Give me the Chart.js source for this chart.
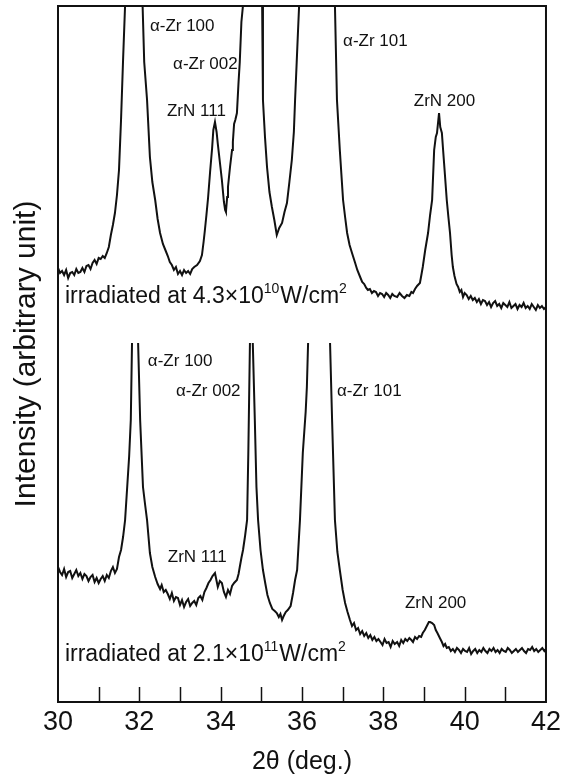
<!DOCTYPE html>
<html>
<head>
<meta charset="utf-8">
<script src="https://cdn.jsdelivr.net/npm/chart.js@4.4.1/dist/chart.umd.min.js"></script>
<style>
  html, body { margin: 0; padding: 0; background: #fff; }
</style>
</head>
<body>
<canvas id="xrdChart" width="565" height="780"></canvas>
<script>
// 2θ (deg.) and intensity (arb.); values above the frame are clipped peaks
const upperTheta = [
  30.00, 30.05, 30.10, 30.15, 30.20, 30.25, 30.30, 30.35, 30.40, 30.45, 30.50, 30.55, 30.60, 30.65, 30.70, 30.75,
  30.80, 30.85, 30.90, 30.95, 31.00, 31.05, 31.10, 31.15, 31.20, 31.25, 31.30, 31.35, 31.40, 31.45, 31.50, 31.55,
  31.60, 31.65, 31.86, 32.08, 32.12, 32.19, 32.26, 32.32, 32.39, 32.45, 32.51, 32.58, 32.65, 32.70, 32.75, 32.80,
  32.85, 32.90, 32.95, 33.00, 33.05, 33.10, 33.15, 33.20, 33.25, 33.30, 33.35, 33.42, 33.49, 33.54, 33.58, 33.61,
  33.65, 33.69, 33.74, 33.79, 33.82, 33.86, 33.90, 33.93, 33.98, 34.03, 34.08, 34.11, 34.13, 34.16, 34.18, 34.23,
  34.28, 34.30, 34.33, 34.36, 34.40, 34.44, 34.47, 34.51, 34.55, 34.80, 35.02, 35.04, 35.09, 35.14, 35.20, 35.26,
  35.32, 35.38, 35.44, 35.51, 35.57, 35.63, 35.69, 35.75, 35.80, 35.83, 35.87, 35.90, 35.93, 36.38, 36.81, 36.86,
  36.93, 37.01, 37.06, 37.11, 37.17, 37.23, 37.30, 37.36, 37.43, 37.48, 37.53, 37.58, 37.62, 37.67, 37.72, 37.77,
  37.82, 37.87, 37.92, 37.97, 38.02, 38.07, 38.12, 38.17, 38.22, 38.27, 38.34, 38.40, 38.46, 38.52, 38.58, 38.64,
  38.69, 38.73, 38.78, 38.83, 38.90, 38.94, 38.97, 39.03, 39.10, 39.15, 39.20, 39.25, 39.29, 39.32, 39.37, 39.40,
  39.44, 39.47, 39.51, 39.56, 39.60, 39.64, 39.68, 39.71, 39.75, 39.80, 39.84, 39.88, 39.92, 39.96, 40.00, 40.05,
  40.10, 40.15, 40.20, 40.25, 40.30, 40.35, 40.40, 40.45, 40.50, 40.55, 40.60, 40.65, 40.70, 40.75, 40.80, 40.85,
  40.90, 40.95, 41.00, 41.05, 41.10, 41.15, 41.20, 41.25, 41.30, 41.35, 41.40, 41.45, 41.50, 41.55, 41.60, 41.65,
  41.70, 41.75, 41.80, 41.85, 41.90, 41.95, 42.00
];
const upperIntensity = [
  434, 429, 431, 427, 432, 424, 429, 430, 427, 433, 429, 430, 434, 430, 436, 437,
  433, 439, 442, 438, 444, 443, 446, 444, 449, 455, 467, 477, 489, 507, 532, 582,
  642, 697, 1800, 697, 640, 602, 545, 520, 502, 483, 469, 458, 451, 446, 440, 437,
  432, 435, 428, 431, 427, 432, 429, 431, 428, 433, 435, 437, 441, 447, 460, 471,
  487, 504, 530, 554, 572, 580, 570, 558, 540, 522, 500, 492, 490, 505, 515, 535,
  552, 560, 578, 582, 589, 620, 640, 680, 697, 2200, 697, 602, 565, 535, 510, 495,
  482, 467, 474, 479, 490, 499, 520, 542, 570, 602, 640, 669, 697, 2600, 697, 602,
  552, 502, 485, 469, 457, 449, 440, 432, 425, 420, 418, 414, 412, 413, 409, 411,
  410, 406, 409, 408, 405, 409, 407, 404, 408, 406, 405, 409, 406, 404, 407, 406,
  410, 409, 413, 416, 419, 428, 435, 452, 469, 487, 502, 552, 565, 569, 589, 575,
  569, 552, 530, 502, 485, 469, 447, 435, 426, 418, 415, 410, 412, 405, 409, 407,
  403, 406, 402, 404, 400, 403, 398, 402, 401, 397, 400, 395, 399, 401, 396, 398,
  394, 399, 397, 395, 400, 394, 396, 398, 393, 397, 395, 399, 394, 396, 393, 398,
  395, 392, 397, 394, 396, 393, 395
];

const lowerTheta = [
  30.00, 30.05, 30.10, 30.15, 30.20, 30.25, 30.30, 30.35, 30.40, 30.45, 30.50, 30.55, 30.60, 30.65, 30.70, 30.75,
  30.80, 30.85, 30.90, 30.95, 31.00, 31.05, 31.10, 31.15, 31.20, 31.25, 31.30, 31.35, 31.40, 31.45, 31.50, 31.55,
  31.60, 31.65, 31.70, 31.75, 31.79, 31.82, 31.90, 31.97, 32.02, 32.09, 32.14, 32.19, 32.26, 32.32, 32.39, 32.45,
  32.51, 32.55, 32.60, 32.65, 32.70, 32.75, 32.80, 32.85, 32.90, 32.95, 33.00, 33.05, 33.10, 33.15, 33.20, 33.25,
  33.30, 33.35, 33.40, 33.45, 33.50, 33.55, 33.60, 33.65, 33.70, 33.75, 33.80, 33.86, 33.90, 33.93, 33.98, 34.03,
  34.08, 34.13, 34.18, 34.23, 34.28, 34.33, 34.40, 34.44, 34.47, 34.51, 34.55, 34.60, 34.65, 34.68, 34.72, 34.75,
  34.79, 34.84, 34.88, 34.92, 34.98, 35.04, 35.10, 35.15, 35.21, 35.27, 35.33, 35.38, 35.43, 35.47, 35.51, 35.55,
  35.60, 35.65, 35.72, 35.78, 35.83, 35.88, 35.95, 36.02, 36.09, 36.12, 36.15, 36.40, 36.69, 36.74, 36.81, 36.87,
  36.93, 37.00, 37.06, 37.12, 37.18, 37.23, 37.28, 37.33, 37.38, 37.43, 37.48, 37.53, 37.58, 37.63, 37.68, 37.73,
  37.78, 37.83, 37.88, 37.93, 37.98, 38.03, 38.08, 38.13, 38.18, 38.23, 38.28, 38.34, 38.39, 38.44, 38.49, 38.54,
  38.59, 38.64, 38.69, 38.73, 38.78, 38.83, 38.88, 38.93, 38.97, 39.02, 39.07, 39.12, 39.15, 39.20, 39.25, 39.29,
  39.33, 39.39, 39.44, 39.48, 39.52, 39.56, 39.61, 39.66, 39.71, 39.76, 39.81, 39.86, 39.91, 39.96, 40.01, 40.06,
  40.11, 40.16, 40.21, 40.26, 40.31, 40.36, 40.41, 40.46, 40.51, 40.56, 40.61, 40.66, 40.71, 40.76, 40.81, 40.86,
  40.91, 40.96, 41.01, 41.06, 41.11, 41.16, 41.21, 41.26, 41.31, 41.36, 41.41, 41.46, 41.51, 41.56, 41.61, 41.66,
  41.71, 41.76, 41.81, 41.86, 41.91, 41.96, 42.00
];
// null = where the trace is broken off above the cut height
const lowerIntensity = [
  135, 130, 127, 133, 125, 130, 131, 124, 128, 132, 126, 129, 123, 128, 126, 121,
  125, 127, 120, 124, 119, 123, 126, 121, 127, 124, 131, 135, 129, 133, 145, 152,
  165, 182, 214, 246, 282, 359, null, 359, 282, 215, 198, 182, 149, 135, 125, 118,
  113, 117, 110, 112, 108, 103, 109, 101, 105, 104, 97, 102, 95, 100, 103, 96,
  99, 101, 97, 104, 106, 102, 110, 114, 119, 122, 126, 129, 121, 115, 121, 119,
  110, 105, 112, 108, 116, 119, 122, 128, 135, 144, 152, 166, 182, 249, 359, null,
  359, 282, 215, 182, 152, 132, 118, 107, 99, 93, 91, 89, 85, 88, 82, 86,
  90, 92, 96, 109, 122, 132, 182, 249, 290, 315, 359, null, 359, 282, 182, 150,
  132, 112, 99, 90, 82, 76, 79, 72, 74, 68, 71, 66, 69, 64, 67, 62,
  65, 61, 63, 60, 57, 63, 59, 60, 55, 61, 58, 60, 56, 62, 59, 63,
  61, 64, 62, 60, 65, 63, 66, 65, 69, 72, 76, 80, 80, 79, 77, 72,
  69, 64, 60, 56, 58, 54, 55, 51, 53, 50, 54, 52, 49, 53, 51, 50,
  54, 48, 51, 53, 49, 52, 50, 54, 51, 49, 53, 51, 54, 50, 52, 49,
  53, 51, 50, 54, 52, 49, 51, 53, 50, 52, 54, 51, 49, 53, 52, 55,
  51, 53, 50, 52, 54, 51, 53
];

const xTickValues = [30, 31, 32, 33, 34, 35, 36, 37, 38, 39, 40, 41, 42];
const xLabelValues = [30, 32, 34, 36, 38, 40, 42];

const peakNames = ['α-Zr 100', 'α-Zr 002', 'ZrN 111', 'α-Zr 101', 'ZrN 200'];
const sampleNames = [
  [['irradiated at 4.3×10', false], ['10', true], ['W/cm', false], ['2', true]],
  [['irradiated at 2.1×10', false], ['11', true], ['W/cm', false], ['2', true]]
];

const FONT = '"Liberation Sans", Arial, Helvetica, sans-serif';
const INK = '#111';

// where the annotations sit, in (2θ, intensity) coordinates
const peakNotes = [
  { name: 0, x: 32.26, y: 676 }, { name: 1, x: 32.83, y: 638 }, { name: 2, x: 32.68, y: 591 },
  { name: 3, x: 37.01, y: 661 }, { name: 4, x: 38.75, y: 601 },
  { name: 0, x: 32.21, y: 341 }, { name: 1, x: 32.90, y: 311 }, { name: 2, x: 32.70, y: 145 },
  { name: 3, x: 36.86, y: 311 }, { name: 4, x: 38.53, y: 99 }
];
const sampleNotes = [
  { name: 0, x: 30.17, y: 405 },
  { name: 1, x: 30.17, y: 47 }
];

function toPoints(theta, intensity) {
  return theta.map((t, i) => ({ x: t, y: intensity[i] }));
}

const whiteBackground = {
  id: 'whiteBackground',
  beforeDraw(chart) {
    const ctx = chart.ctx;
    ctx.save();
    ctx.fillStyle = '#fff';
    ctx.fillRect(0, 0, chart.width, chart.height);
    ctx.restore();
  }
};

// box around the plot and short inward ticks on the bottom edge
const frameAndTicks = {
  id: 'frameAndTicks',
  afterDatasetsDraw(chart) {
    const { ctx, chartArea: a, scales } = chart;
    ctx.save();
    ctx.strokeStyle = INK;
    ctx.lineWidth = 2;
    ctx.strokeRect(a.left, a.top, a.right - a.left, a.bottom - a.top);
    ctx.lineWidth = 1.5;
    xTickValues.forEach(v => {
      if (v === scales.x.min || v === scales.x.max) return;
      const px = Math.round(scales.x.getPixelForValue(v)) + 0.5;
      ctx.beginPath();
      ctx.moveTo(px, a.bottom);
      ctx.lineTo(px, a.bottom - 15);
      ctx.stroke();
    });
    ctx.restore();
  }
};

const notes = {
  id: 'notes',
  afterDatasetsDraw(chart) {
    const { ctx, scales } = chart;
    ctx.save();
    ctx.fillStyle = INK;
    ctx.textBaseline = 'middle';
    ctx.textAlign = 'left';
    ctx.font = '17px ' + FONT;
    peakNotes.forEach(n => {
      ctx.fillText(peakNames[n.name], scales.x.getPixelForValue(n.x), scales.y.getPixelForValue(n.y));
    });
    sampleNotes.forEach(n => {
      let px = scales.x.getPixelForValue(n.x);
      const py = scales.y.getPixelForValue(n.y);
      sampleNames[n.name].forEach(([text, sup]) => {
        ctx.font = (sup ? '14px ' : '23px ') + FONT;
        ctx.fillText(text, px, sup ? py - 8 : py);
        px += ctx.measureText(text).width + (sup ? 1 : 0);
      });
    });
    ctx.restore();
  }
};

new Chart(document.getElementById('xrdChart'), {
  type: 'line',
  data: {
    datasets: [
      { label: '4.3×10^10 W/cm2', data: toPoints(upperTheta, upperIntensity) },
      { label: '2.1×10^11 W/cm2', data: toPoints(lowerTheta, lowerIntensity) }
    ]
  },
  options: {
    responsive: false,
    animation: false,
    spanGaps: false,
    layout: { padding: { top: 6, right: 17, left: 0, bottom: 0 } },
    elements: {
      line: { borderColor: INK, borderWidth: 2, tension: 0, fill: false },
      point: { radius: 0 }
    },
    plugins: { legend: { display: false }, tooltip: { enabled: false } },
    scales: {
      x: {
        type: 'linear',
        min: 30,
        max: 42,
        afterBuildTicks: s => { s.ticks = xTickValues.map(v => ({ value: v })); },
        afterFit: s => { s.height = 78; },
        ticks: {
          autoSkip: false,
          maxRotation: 0,
          padding: 4,
          color: INK,
          font: { family: FONT, size: 27 },
          callback: v => xLabelValues.includes(v) ? String(v) : ''
        },
        grid: { display: false, drawTicks: false },
        border: { display: false },
        title: {
          display: true,
          text: '2θ (deg.)',
          color: INK,
          font: { family: FONT, size: 25 },
          padding: { top: 0, bottom: 3 }
        }
      },
      y: {
        min: 0,
        max: 696,
        afterFit: s => { s.width = 58; },
        ticks: { display: false },
        grid: { display: false, drawTicks: false },
        border: { display: false },
        title: {
          display: true,
          text: 'Intensity (arbitrary unit)',
          color: INK,
          font: { family: FONT, size: 30 },
          padding: { top: 9, bottom: 0 }
        }
      }
    }
  },
  plugins: [whiteBackground, frameAndTicks, notes]
});
</script>
</body>
</html>
